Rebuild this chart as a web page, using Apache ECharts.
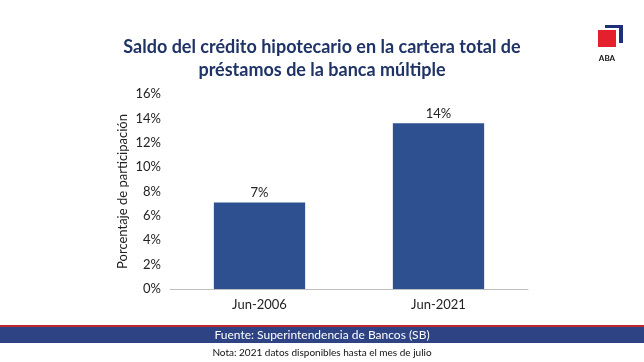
<!DOCTYPE html>
<html><head><meta charset="utf-8">
<script src="https://cdn.jsdelivr.net/npm/echarts@6/dist/echarts.min.js"></script>
<style>html,body{margin:0;padding:0;background:#fff}#c{width:644px;height:362px}</style>
</head><body><div id="c"></div>
<script>
const categories = ['Jun-2006', 'Jun-2021'];
const values = [7.1, 13.6];
const valueLabels = ['7%', '14%'];
const titleLines = ['Saldo del crédito hipotecario en la cartera total de', 'préstamos de la banca múltiple'];
const yAxisName = 'Porcentaje de participación';
const sourceText = 'Fuente: Superintendencia de Bancos (SB)';
const noteText = 'Nota: 2021 datos disponibles hasta el mes de julio';

const chart = echarts.init(document.getElementById('c'));
const font = 'Lato, "Noto Sans", sans-serif';
chart.setOption({
  animation: false,
  textStyle: { fontFamily: font },
  title: {
    text: titleLines.join('\n'), left: 'center', top: 31,
    textStyle: { fontSize: 18, fontWeight: 'bold', color: '#1f3366', lineHeight: 23, fontFamily: font }
  },
  grid: { left: 170, right: 116, top: 94, bottom: 73 },
  xAxis: {
    type: 'category', data: categories,
    axisTick: { show: false },
    axisLine: { lineStyle: { color: '#bfbfbf' } },
    axisLabel: { color: '#222', fontSize: 13, margin: 9 }
  },
  yAxis: {
    type: 'value', min: 0, max: 16, interval: 2,
    name: yAxisName, nameLocation: 'middle', nameGap: 41, nameRotate: 90,
    nameMoveOverlap: false,
    nameTextStyle: { color: '#222', fontSize: 13 },
    axisLabel: { formatter: '{value}%', color: '#222', fontSize: 13, margin: 9 },
    splitLine: { show: false }, axisLine: { show: false }, axisTick: { show: false }
  },
  series: [{
    type: 'bar', data: values, barWidth: '51%',
    itemStyle: { color: '#2e5090' },
    label: { show: true, position: 'top', distance: 3, color: '#222', fontSize: 13,
      formatter: p => valueLabels[p.dataIndex] }
  }],
  graphic: [
    { type: 'rect', shape: { x: 0, y: 325, width: 644, height: 2 }, style: { fill: '#c0272d' } },
    { type: 'rect', shape: { x: 0, y: 327, width: 644, height: 16 }, style: { fill: '#2d4383' } },
    { type: 'text', x: 322, y: 335, style: { text: sourceText, fill: '#fff', fontSize: 12, fontFamily: font, align: 'center', verticalAlign: 'middle' } },
    { type: 'text', x: 322, y: 353, style: { text: noteText, fill: '#111', fontSize: 10, fontFamily: font, align: 'center', verticalAlign: 'middle' } },
    { type: 'rect', shape: { x: 605, y: 25, width: 18, height: 3 }, style: { fill: '#1f2f7a' } },
    { type: 'rect', shape: { x: 619, y: 25, width: 4, height: 18 }, style: { fill: '#1f2f7a' } },
    { type: 'rect', shape: { x: 598, y: 30, width: 18, height: 17 }, style: { fill: '#e3202b' } },
    { type: 'text', x: 607, y: 58, style: { text: 'ABA', fill: '#111', fontSize: 8, fontWeight: 'bold', fontFamily: font, align: 'center', verticalAlign: 'middle' } }
  ]
});
</script></body></html>
